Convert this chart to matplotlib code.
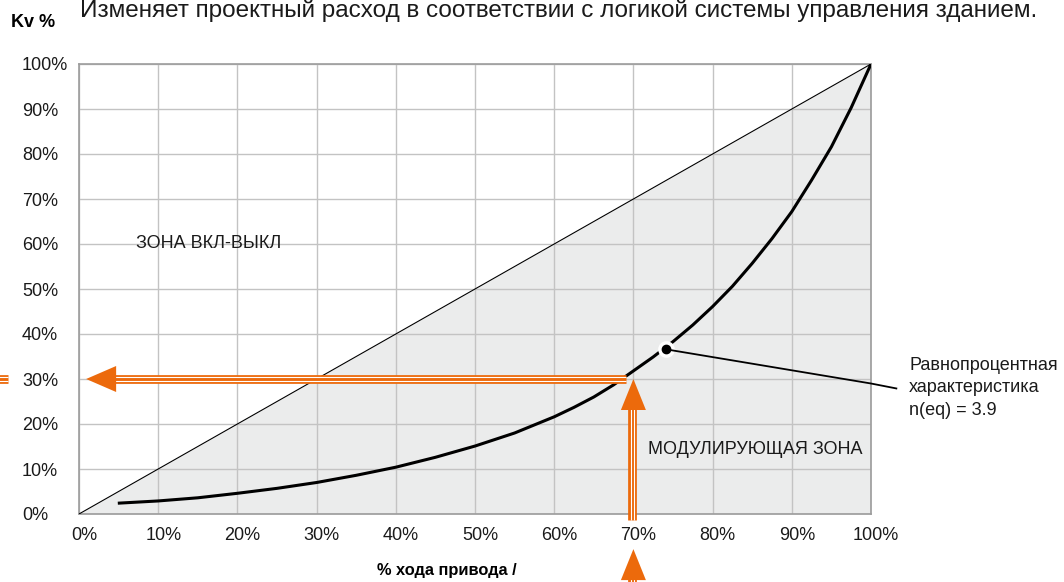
import matplotlib
matplotlib.use("Agg")
import matplotlib.pyplot as plt
import matplotlib.transforms as mtransforms
from matplotlib.patches import Polygon

plt.rcParams['font.family'] = ['Liberation Sans', 'DejaVu Sans']

# ---- data ----
travel = [4.9, 10, 15, 20, 25, 30, 35, 40, 45, 50, 55, 60, 62.5, 65, 67.5, 70, 72.5, 75,
          77.5, 80, 82.5, 85, 87.5, 90, 92.5, 95, 97.5, 100]
kv = [2.4, 2.9, 3.6, 4.6, 5.7, 7.0, 8.6, 10.4, 12.6, 15.1, 18.0, 21.6, 23.7, 26.0, 28.7, 31.8, 34.9, 38.3,
      42.0, 46.1, 50.6, 55.7, 61.2, 67.2, 74.2, 81.6, 90.3, 100]
linear_x = [0, 100]
linear_y = [0, 100]
ticks = [0, 10, 20, 30, 40, 50, 60, 70, 80, 90, 100]
tick_labels = ["0%", "10%", "20%", "30%", "40%", "50%", "60%", "70%", "80%", "90%", "100%"]
dot_point = (74.1, 36.6)
op_travel = 70   # operating point travel
op_kv = 30       # operating point Kv

title = "Изменяет проектный расход в соответствии с логикой системы управления зданием."
ylabel = "Kv %"
xlabel = "% хода привода /"
zone_onoff = "ЗОНА ВКЛ-ВЫКЛ"
zone_mod = "МОДУЛИРУЮЩАЯ ЗОНА"
annot = "Равнопроцентная\nхарактеристика\nn(eq) = 3.9"

ORANGE = "#ec6a0c"
GRID = "#c3c3c3"
FILL = "#ebecec"
SPINE = "#9c9c9c"

W, H = 1064, 582
fig = plt.figure(figsize=(W / 100, H / 100), dpi=100)
ax = fig.add_axes([79 / W, 1 - 514 / H, 792 / W, 450 / H])
ax.set_xlim(0, 100)
ax.set_ylim(0, 100)

# px -> data unit conversions
px_x = 100 / 792
px_y = 100 / 450

# fill below the linear line
ax.fill_between(linear_x, 0, linear_y, color=FILL, zorder=0, lw=0)

ax.set_xticks(ticks)
ax.set_yticks(ticks)
ax.set_xticklabels(tick_labels)
ax.set_yticklabels(tick_labels)
ax.grid(True, color=GRID, lw=1.0, zorder=1)
ax.set_axisbelow(True)
for s in ax.spines.values():
    s.set_color(SPINE)
    s.set_linewidth(1.2)
ax.tick_params(axis='both', length=0, labelsize=13, colors='#1a1a1a')
ax.tick_params(axis='y', pad=41)
ax.tick_params(axis='x', pad=9)
for lab in ax.get_yticklabels():
    lab.set_horizontalalignment('left')
offset = mtransforms.ScaledTranslation(5 / 100, 0, fig.dpi_scale_trans)
for lab in ax.get_xticklabels():
    lab.set_transform(lab.get_transform() + offset)

# linear diagonal
ax.plot(linear_x, linear_y, color='black', lw=0.8, zorder=3)

# equal percentage curve
ax.plot(travel, kv, color='black', lw=2.2, zorder=4, solid_capstyle='butt', solid_joinstyle='round')

# white halo at the dot, leader line, dot
ax.plot([dot_point[0]], [dot_point[1]], 'o', ms=11, color='white', zorder=5)
lead_x = [dot_point[0], 100, 103.2]
lead_y = [dot_point[1], 29.0, 27.9]
ax.plot(lead_x, lead_y, color='black', lw=1.3, zorder=6, clip_on=False)
ax.plot([dot_point[0]], [dot_point[1]], 'o', ms=6, color='black', zorder=7)


def triple_line(xs, ys, vertical=False):
    base = ax.transData
    ax.plot(xs, ys, color=ORANGE, lw=6.3, solid_capstyle='butt', zorder=8,
            clip_on=False, transform=base)
    for d in (-1.6, 1.6):
        if vertical:
            tr = mtransforms.offset_copy(base, fig=fig, x=d, y=0, units='dots')
        else:
            tr = mtransforms.offset_copy(base, fig=fig, x=0, y=d, units='dots')
        ax.plot(xs, ys, color='white', lw=0.8, solid_capstyle='butt', zorder=9,
                clip_on=False, transform=tr)


# horizontal arrow (to the Kv axis)
h_head_len = 30 * px_x
h_head_half = 13 * px_y
h_tip_x = 0.9
triple_line([op_travel - 7 * px_x, h_tip_x + h_head_len - 0.3], [op_kv, op_kv])
ax.add_patch(Polygon([(h_tip_x, op_kv), (h_tip_x + h_head_len, op_kv + h_head_half),
                      (h_tip_x + h_head_len, op_kv - h_head_half)],
                     closed=True, color=ORANGE, lw=0, zorder=10, clip_on=False))
# remnant at the left figure edge
triple_line([-10.5, -9.0], [op_kv, op_kv])

# vertical arrow (from travel axis)
v_head_len = 31 * px_y
v_head_half = 12.5 * px_x
shaft_x = op_travel - 0.15
triple_line([shaft_x, shaft_x], [op_kv - v_head_len + 0.5, -1.3], vertical=True)
ax.add_patch(Polygon([(op_travel, op_kv), (op_travel - v_head_half, op_kv - v_head_len),
                      (op_travel + v_head_half, op_kv - v_head_len)],
                     closed=True, color=ORANGE, lw=0, zorder=10, clip_on=False))
# lower arrow below the tick labels
b_tip = -7.8
triple_line([shaft_x, shaft_x], [b_tip - v_head_len + 0.5, -20], vertical=True)
ax.add_patch(Polygon([(op_travel, b_tip), (op_travel - v_head_half, b_tip - v_head_len),
                      (op_travel + v_head_half, b_tip - v_head_len)],
                     closed=True, color=ORANGE, lw=0, zorder=10, clip_on=False))

# texts
ax.text(7.2, 60, zone_onoff, fontsize=13, va='center', ha='left', color='#1a1a1a', zorder=11)
ax.text(71.8, 14.4, zone_mod, fontsize=13, va='center', ha='left', color='#1a1a1a', zorder=11)
ax.text(104.8, 28.0, annot, fontsize=13, va='center', ha='left', color='#1a1a1a',
        linespacing=1.45, clip_on=False)

fig.text(80 / W, 1 - 17 / H, title, fontsize=17.5, ha='left', va='baseline', color='#1a1a1a')
fig.text(11 / W, 1 - 27 / H, ylabel, fontsize=13, fontweight='bold', ha='left', va='baseline')
fig.text(447 / W, 1 - 570 / H, xlabel, fontsize=11.8, fontweight='bold', ha='center', va='center')

fig.savefig("out.png", dpi=100)
